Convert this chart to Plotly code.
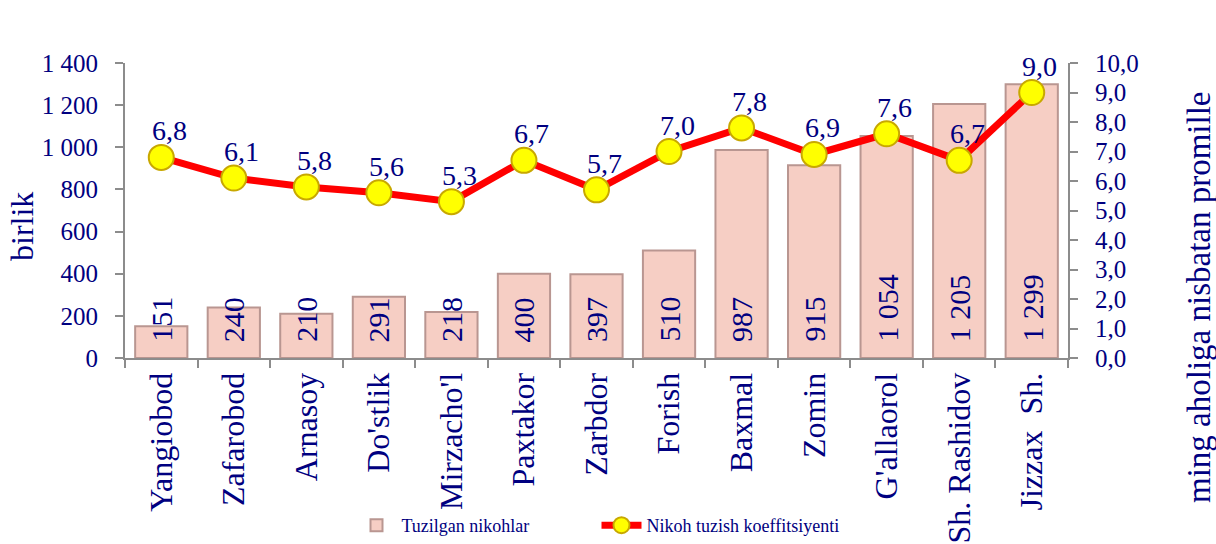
import plotly.graph_objects as go

categories = ["Yangiobod", "Zafarobod", "Arnasoy", "Do'stlik", "Mirzacho'l", "Paxtakor",
              "Zarbdor", "Forish", "Baxmal", "Zomin", "G'allaorol", "Sh. Rashidov",
              "Jizzax\u00a0 Sh."]
marriages = [151, 240, 210, 291, 218, 400, 397, 510, 987, 915, 1054, 1205, 1299]
coefficient = [6.8, 6.1, 5.8, 5.6, 5.3, 6.7, 5.7, 7.0, 7.8, 6.9, 7.6, 6.7, 9.0]
bar_name = "Tuzilgan nikohlar"
line_name = "Nikoh tuzish koeffitsiyenti"
left_title = "birlik"
right_title = "ming aholiga nisbatan promille"

NAVY = "#000080"
FONT = "Liberation Serif, Times New Roman, serif"
AXIS = "#8c8c8c"

fig = go.Figure()
fig.add_trace(go.Bar(
    x=categories, y=marriages, name=bar_name, width=0.72,
    marker=dict(color="rgb(246,206,196)", line=dict(color="rgb(185,150,145)", width=2)),
    yaxis="y", hoverinfo="skip"))
fig.add_trace(go.Scatter(
    x=categories, y=coefficient, name=line_name, mode="lines+markers",
    line=dict(color="#ff0000", width=7),
    marker=dict(size=25, color="#ffff00", line=dict(color="#c8a800", width=2)),
    yaxis="y2", cliponaxis=False, hoverinfo="skip"))

annotations = []
for c, v in zip(categories, marriages):
    annotations.append(dict(
        x=c, y=0, xref="x", yref="y", text=f"{v:,}".replace(",", " "),
        textangle=-90, showarrow=False, yanchor="bottom", xanchor="center",
        yshift=14, font=dict(family=FONT, size=30, color=NAVY)))
for c, v in zip(categories, coefficient):
    annotations.append(dict(
        x=c, y=v, xref="x", yref="y2", text=f"{v:.1f}".replace(".", ","),
        showarrow=False, yanchor="bottom", xanchor="center",
        xshift=8, yshift=9, font=dict(family=FONT, size=28, color=NAVY)))

W, H = 1216, 544
L, R, T, B = 125, 148, 63, 186
pw, ph = W - L - R, H - T - B

# axis titles placed by pixel position, converted to paper coordinates
annotations.append(dict(
    x=(22 - L) / pw, y=(H - B - 227) / ph, xref="paper", yref="paper",
    text=left_title, textangle=-90, showarrow=False,
    xanchor="center", yanchor="middle",
    font=dict(family=FONT, size=32, color=NAVY)))
annotations.append(dict(
    x=(1199 - L) / pw, y=(H - B - 297) / ph, xref="paper", yref="paper",
    text=right_title, textangle=-90, showarrow=False,
    xanchor="center", yanchor="middle",
    font=dict(family=FONT, size=33, color=NAVY)))

fig.update_layout(
    width=W, height=H,
    margin=dict(l=L, r=R, t=T, b=B, autoexpand=False),
    paper_bgcolor="white", plot_bgcolor="white",
    separators=", ",
    font=dict(family=FONT, color=NAVY),
    showlegend=True,
    legend=dict(orientation="h", x=0.5, xanchor="center", yref="container",
                y=-0.016, yanchor="bottom", font=dict(family=FONT, size=18, color=NAVY),
                bgcolor="rgba(0,0,0,0)", itemwidth=40, tracegroupgap=0,
                entrywidth=190, entrywidthmode="pixels"),
    annotations=annotations,
    xaxis=dict(type="category", range=[-0.5, len(categories) - 0.5],
               showline=True, linecolor=AXIS, linewidth=2,
               ticks="outside", ticklen=8, tickcolor=AXIS, tickwidth=2,
               tickson="boundaries", tickangle=-90,
               tickfont=dict(family=FONT, size=32, color=NAVY),
               showgrid=False, zeroline=False),
    yaxis=dict(range=[0, 1400], dtick=200, tickformat=",.0f", showline=True,
               linecolor=AXIS, linewidth=2, ticks="outside", ticklen=8,
               tickcolor=AXIS, tickwidth=2, ticklabelstandoff=12,
               tickfont=dict(family=FONT, size=25, color=NAVY),
               showgrid=False, zeroline=False),
    yaxis2=dict(range=[0, 10], dtick=1, tickformat=".1f", overlaying="y", side="right",
                showline=True, linecolor=AXIS, linewidth=2, ticks="outside", ticklen=8,
                tickcolor=AXIS, tickwidth=2, ticklabelstandoff=12,
                tickfont=dict(family=FONT, size=25, color=NAVY),
                showgrid=False, zeroline=False),
)

fig.write_html("out.html", config={"displayModeBar": False},
               post_script="document.body.style.margin='0';document.body.style.overflow='hidden';")
